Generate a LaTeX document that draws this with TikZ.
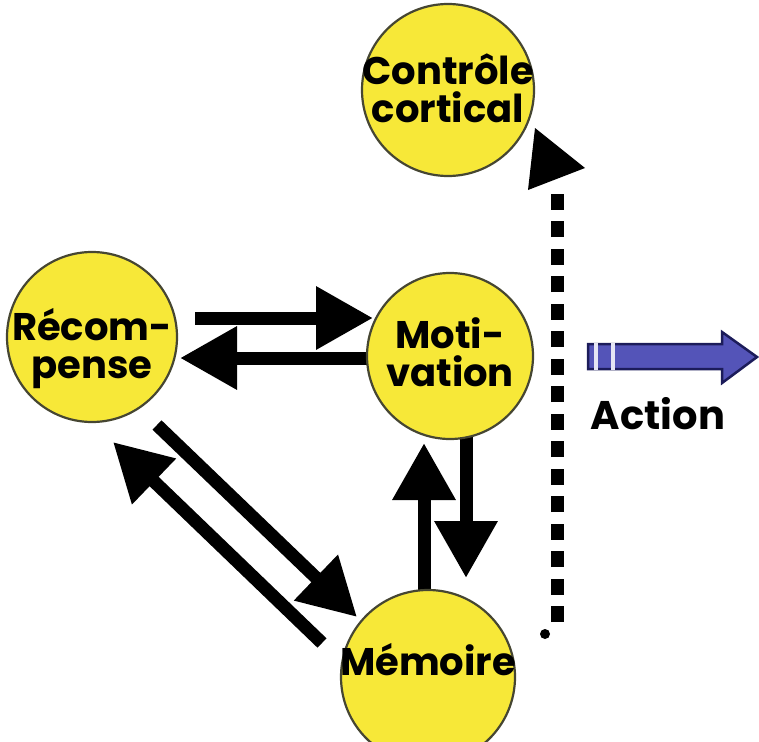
\documentclass[tikz,border=0pt]{standalone}
\usepackage{fontspec}
\setmainfont{Poppins}
\usetikzlibrary{arrows.meta}
\definecolor{circyellow}{RGB}{247,232,56}
\definecolor{circedge}{RGB}{70,70,50}
\definecolor{actblue}{RGB}{84,84,184}
\definecolor{actnavy}{RGB}{28,28,90}
\begin{document}
\begin{tikzpicture}[x=1pt,y=-1pt,
  bubble/.style={circle, fill=circyellow, draw=circedge, line width=2.2pt, inner sep=0pt},
  btext/.style={font=\fontsize{38.5}{38}\selectfont\bfseries, align=center, inner sep=0pt},
  fat/.style={line width=13pt, -{Triangle[length=57pt,width=60pt]}},
  dots/.style={line width=13pt, dash pattern=on 16pt off 11.5pt},
  ]
\useasboundingbox (0,0) rectangle (759,741);
\clip (0,0) rectangle (759,741);

% arrow end points
\coordinate (rm1) at (195,318); \coordinate (rm2) at (373,318);
\coordinate (mr1) at (368,358); \coordinate (mr2) at (180,358);
\coordinate (rd1) at (157,425); \coordinate (rd2) at (357,617);
\coordinate (dr1) at (322,643); \coordinate (dr2) at (113,442);
\coordinate (mu1) at (424,595); \coordinate (mu2) at (424,443);
\coordinate (md1) at (466,436); \coordinate (md2) at (466,578);

\draw[fat] (rm1) -- (rm2);
\draw[fat] (mr1) -- (mr2);
\draw[fat] (rd1) -- (rd2);
\draw[fat] (dr1) -- (dr2);
\draw[fat] (mu1) -- (mu2);
\draw[fat] (md1) -- (md2);

% dotted connector to cortical control
\coordinate (dotA) at (557,622);
\coordinate (dotB) at (557,193);
\coordinate (dotC) at (545,634);
\coordinate (tipA) at (535,128);
\coordinate (tipB) at (528,190);
\coordinate (tipC) at (585,168);
\draw[dots] (dotA) -- (dotB);
\fill (dotC) circle (5pt);
\fill (tipA) -- (tipB) -- (tipC) -- cycle;

% circles
\node[bubble, minimum size=172pt] (ctrl) at (448,90) {};
\node[bubble, minimum size=170pt] (rec) at (92,337) {};
\node[bubble, minimum size=166pt] (mot) at (450,356) {};
\node[bubble, minimum size=174pt] (mem) at (428,677) {};

\node[btext] (ctrlT) at (448,88) {Contrôle\\cortical};
\node[btext] (recT) at (92,349) {Récom-\\pense};
\node[btext] (motT) at (450,352) {Moti-\\vation};
\node[btext] (memT) at (428,660) {Mémoire};

% action arrow
\coordinate (aa1) at (588,344);
\filldraw[fill=actblue, draw=actnavy, line width=2.5pt, line join=miter]
  (aa1) -- (722,344) -- (722,332) -- (757,357) -- (722,383) -- (722,369) -- (588,369) -- cycle;
\fill[white!85!actblue] (594,343) rectangle (598,370);
\fill[white!85!actblue] (611,343) rectangle (615,370);
\node[font=\fontsize{40}{40}\selectfont\bfseries, inner sep=0pt] (act) at (658,414) {Action};
\end{tikzpicture}
\end{document}
